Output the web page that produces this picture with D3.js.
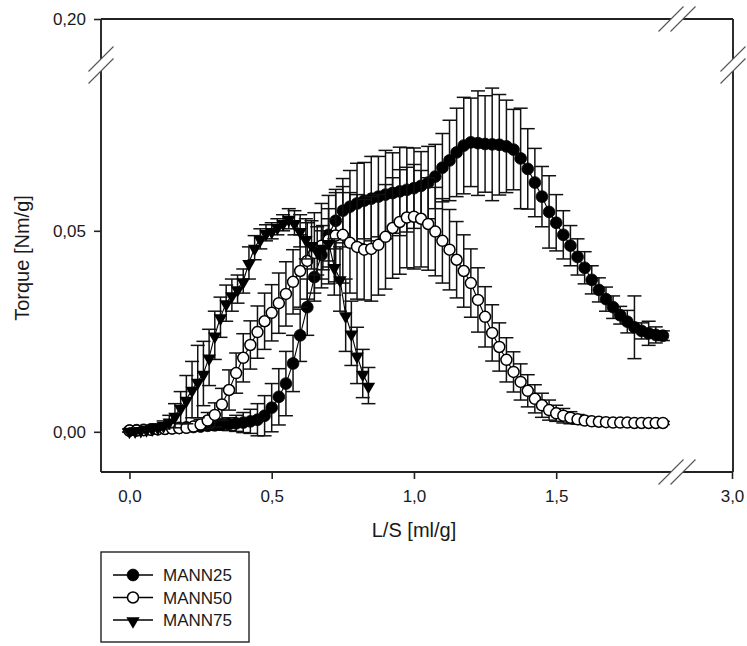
<!DOCTYPE html>
<html>
<head>
<meta charset="utf-8">
<script src="https://cdn.jsdelivr.net/npm/d3@7"></script>
<style>
  body { margin: 0; background: #fff; }
  svg { display: block; }
  text { font-family: "Liberation Sans", Arial, sans-serif; fill: #1a1a1a; }
</style>
</head>
<body>
<svg id="chart" width="747" height="646"></svg>
<script>
// L/S ratio [ml/g] for MANN25 and MANN50
const LS = [0, 0.025, 0.05, 0.075, 0.1, 0.125, 0.15, 0.175, 0.2, 0.225, 0.25, 0.275, 0.3, 0.325, 0.35, 0.375,
  0.4, 0.425, 0.45, 0.475, 0.5, 0.525, 0.55, 0.575, 0.6, 0.625, 0.65, 0.675, 0.7, 0.725, 0.75, 0.775,
  0.8, 0.825, 0.85, 0.875, 0.9, 0.925, 0.95, 0.975, 1.0, 1.025, 1.05, 1.075, 1.1, 1.125, 1.15, 1.175,
  1.2, 1.225, 1.25, 1.275, 1.3, 1.325, 1.35, 1.375, 1.4, 1.425, 1.45, 1.475, 1.5, 1.525, 1.55, 1.575,
  1.6, 1.625, 1.65, 1.675, 1.7, 1.725, 1.75, 1.775, 1.8, 1.825, 1.85, 1.875];

// Torque [Nm/g]
const MANN25 = [0.0003, 0.0004, 0.0005, 0.0006, 0.0007, 0.0008, 0.0009, 0.0010, 0.0011, 0.0012, 0.0013, 0.0015, 0.0016,
  0.0018, 0.0019, 0.0021, 0.0023, 0.0026, 0.0030, 0.0040, 0.0060, 0.0087, 0.0120, 0.0170, 0.0240, 0.0310,
  0.0385, 0.0440, 0.0490, 0.0525, 0.0550, 0.0560, 0.0568, 0.0575, 0.0580, 0.0585, 0.0590, 0.0594, 0.0598,
  0.0602, 0.0606, 0.0612, 0.0620, 0.0635, 0.0657, 0.0675, 0.0695, 0.0712, 0.0720, 0.0718, 0.0716, 0.0715,
  0.0714, 0.0710, 0.0702, 0.0680, 0.0654, 0.0620, 0.0585, 0.0547, 0.0520, 0.0490, 0.0463, 0.0435, 0.0408,
  0.0378, 0.0353, 0.0330, 0.0310, 0.0290, 0.0274, 0.0260, 0.0251, 0.0245, 0.0241, 0.0239];
const MANN25_ERR = [0.0004, 0.0004, 0.0005, 0.0005, 0.0006, 0.0006, 0.0007, 0.0007, 0.0008, 0.0008, 0.0009, 0.0010, 0.0012,
  0.0014, 0.0016, 0.0020, 0.0025, 0.0030, 0.0040, 0.0050, 0.0060, 0.0070, 0.0080, 0.0070, 0.0065, 0.0070,
  0.0060, 0.0060, 0.0065, 0.0070, 0.0080, 0.0090, 0.0100, 0.0095, 0.0105, 0.0100, 0.0110, 0.0100, 0.0110,
  0.0105, 0.0100, 0.0085, 0.0090, 0.0080, 0.0085, 0.0100, 0.0110, 0.0120, 0.0110, 0.0130, 0.0120, 0.0140,
  0.0125, 0.0115, 0.0100, 0.0125, 0.0100, 0.0085, 0.0075, 0.0090, 0.0070, 0.0060, 0.0050, 0.0045, 0.0040,
  0.0035, 0.0030, 0.0030, 0.0028, 0.0022, 0.0028, 0.0078, 0.0020, 0.0030, 0.0020, 0.0012];

const MANN50 = [0.0003, 0.0003, 0.0004, 0.0005, 0.0006, 0.0007, 0.0008, 0.0009, 0.0010, 0.0013, 0.0018, 0.0028, 0.0042,
  0.0068, 0.0104, 0.0146, 0.0184, 0.0216, 0.0248, 0.0275, 0.0296, 0.0320, 0.0343, 0.0373, 0.0400, 0.0425,
  0.0445, 0.0463, 0.0478, 0.0488, 0.0490, 0.0470, 0.0460, 0.0453, 0.0455, 0.0465, 0.0485, 0.0507, 0.0522,
  0.0533, 0.0535, 0.0530, 0.0517, 0.0498, 0.0475, 0.0453, 0.0428, 0.0400, 0.0370, 0.0328, 0.0286, 0.0246,
  0.0211, 0.0179, 0.0149, 0.0124, 0.0102, 0.0082, 0.0066, 0.0054, 0.0046, 0.0040, 0.0035, 0.0031, 0.0028,
  0.0026, 0.0025, 0.0024, 0.0023, 0.0023, 0.0023, 0.0022, 0.0022, 0.0022, 0.0022, 0.0022];
const MANN50_ERR = [0.0003, 0.0003, 0.0003, 0.0004, 0.0004, 0.0004, 0.0005, 0.0005, 0.0006, 0.0008, 0.0012, 0.0020, 0.0030,
  0.0040, 0.0050, 0.0050, 0.0060, 0.0060, 0.0065, 0.0070, 0.0070, 0.0075, 0.0080, 0.0080, 0.0090, 0.0095,
  0.0100, 0.0105, 0.0110, 0.0115, 0.0120, 0.0125, 0.0130, 0.0125, 0.0130, 0.0125, 0.0130, 0.0125, 0.0130,
  0.0125, 0.0130, 0.0120, 0.0115, 0.0110, 0.0105, 0.0100, 0.0095, 0.0090, 0.0085, 0.0080, 0.0075, 0.0070,
  0.0060, 0.0055, 0.0050, 0.0045, 0.0040, 0.0035, 0.0030, 0.0025, 0.0020, 0.0018, 0.0015, 0.0012, 0.0010,
  0.0009, 0.0008, 0.0007, 0.0006, 0.0006, 0.0005, 0.0005, 0.0005, 0.0004, 0.0004, 0.0004];

// MANN75 was sampled on its own L/S grid
const LS75 = [0, 0.02, 0.04, 0.06, 0.08, 0.1, 0.12, 0.14, 0.16, 0.18, 0.2, 0.22, 0.24, 0.26, 0.28, 0.3, 0.32, 0.34,
  0.36, 0.38, 0.4, 0.42, 0.44, 0.46, 0.48, 0.5, 0.52, 0.54, 0.56, 0.58, 0.6, 0.62, 0.64, 0.66, 0.68, 0.7,
  0.72, 0.74, 0.76, 0.78, 0.8, 0.82, 0.84];
const MANN75 = [0.0003, 0.0004, 0.0005, 0.0007, 0.0009, 0.0012, 0.0017, 0.0026, 0.0040, 0.0060, 0.0080, 0.0105, 0.0125,
  0.0145, 0.0185, 0.0240, 0.0285, 0.0320, 0.0340, 0.0355, 0.0375, 0.0420, 0.0458, 0.0480, 0.0495, 0.0500,
  0.0510, 0.0520, 0.0530, 0.0520, 0.0500, 0.0480, 0.0465, 0.0450, 0.0458, 0.0470, 0.0410, 0.0380, 0.0290,
  0.0245, 0.0190, 0.0145, 0.0115];
const MANN75_ERR = [0.0004, 0.0004, 0.0005, 0.0005, 0.0006, 0.0008, 0.0010, 0.0015, 0.0030, 0.0040,
  0.0060, 0.0070, 0.0090, 0.0080, 0.0070, 0.0060, 0.0050, 0.0045, 0.0040, 0.0035,
  0.0030, 0.0040, 0.0030, 0.0025, 0.0020, 0.0020, 0.0020, 0.0020, 0.0025, 0.0030,
  0.0040, 0.0050, 0.0060, 0.0060, 0.0055, 0.0060, 0.0070, 0.0080, 0.0090, 0.0080,
  0.0070, 0.0060, 0.0045];

const SERIES_NAMES = ["MANN25", "MANN50", "MANN75"];
const X_TICKS_LOW = [0, 0.5, 1.0, 1.5];
const X_TICKS_HIGH = [3.0];
const Y_TICKS_LOW = [0, 0.05];
const Y_TICKS_HIGH = [0.20];
const X_TITLE = "L/S [ml/g]";
const Y_TITLE = "Torque [Nm/g]";

// ---- layout ----
const svg = d3.select("#chart");
const pLeft = 101, pRight = 733, pTop = 19, pBottom = 472;
const xBreak = [671, 683];   // gap in the x axis
const yBreak = [59, 71];     // gap in the y axis

const xLow = d3.scaleLinear().domain([-0.1, 1.9]).range([pLeft, 670]);
const xHigh = d3.scaleLinear().domain([2.9, 3.0]).range([xBreak[1], pRight - 1]);
const yLow = d3.scaleLinear().domain([-0.01, 0.09]).range([pBottom, 70]);
const yHigh = d3.scaleLinear().domain([0.19, 0.20]).range([yBreak[0], pTop]);

const comma = f => v => f(v).replace(".", ",");
const FRAME = "#222";

// ---- axes ticks and labels ----
function styleAxis(g) {
  g.select(".domain").remove();
  g.selectAll(".tick line").attr("stroke", FRAME).attr("stroke-width", 1.6);
  g.selectAll(".tick text").style("font-size", "17px").attr("fill", "#1a1a1a");
}
svg.append("g").attr("transform", `translate(${pLeft},0)`)
  .call(d3.axisLeft(yLow).tickValues(Y_TICKS_LOW).tickFormat(comma(d3.format(".2f"))).tickSizeOuter(0).tickSize(7).tickPadding(8))
  .call(styleAxis);
svg.append("g").attr("transform", `translate(${pLeft},0)`)
  .call(d3.axisLeft(yHigh).tickValues(Y_TICKS_HIGH).tickFormat(comma(d3.format(".2f"))).tickSizeOuter(0).tickSize(7).tickPadding(8))
  .call(styleAxis);
svg.append("g").attr("transform", `translate(0,${pBottom})`)
  .call(d3.axisBottom(xLow).tickValues(X_TICKS_LOW).tickFormat(comma(d3.format(".1f"))).tickSizeOuter(0).tickSize(7).tickPadding(11))
  .call(styleAxis);
svg.append("g").attr("transform", `translate(0,${pBottom})`)
  .call(d3.axisBottom(xHigh).tickValues(X_TICKS_HIGH).tickFormat(comma(d3.format(".1f"))).tickSizeOuter(0).tickSize(7).tickPadding(11))
  .call(styleAxis);

// ---- frame with breaks ----
const frame = svg.append("g").attr("stroke", FRAME).attr("stroke-width", 1.9).attr("fill", "none");
const seg = (x1, y1, x2, y2) => frame.append("line").attr("x1", x1).attr("y1", y1).attr("x2", x2).attr("y2", y2);
seg(pLeft, pTop, xBreak[0], pTop); seg(xBreak[1], pTop, pRight, pTop);
seg(pLeft, pBottom, xBreak[0], pBottom); seg(xBreak[1], pBottom, pRight, pBottom);
seg(pLeft, pTop, pLeft, yBreak[0]); seg(pLeft, yBreak[1], pLeft, pBottom);
seg(pRight, pTop, pRight, yBreak[0]); seg(pRight, yBreak[1], pRight, pBottom);

const breaks = svg.append("g").attr("stroke", "#555").attr("stroke-width", 1.1);
function slash(cx, cy) {
  breaks.append("line").attr("x1", cx - 12.5).attr("y1", cy + 12.5).attr("x2", cx + 12.5).attr("y2", cy - 12.5);
}
[[xBreak[0], pTop], [xBreak[1], pTop], [xBreak[0], pBottom], [xBreak[1], pBottom],
 [pLeft, yBreak[0]], [pLeft, yBreak[1]], [pRight, yBreak[0]], [pRight, yBreak[1]]].forEach(p => slash(p[0], p[1]));

// ---- axis titles ----
svg.append("text").attr("x", (pLeft + pRight) / 2 - 3).attr("y", 537)
  .attr("text-anchor", "middle").style("font-size", "20px").text(X_TITLE);
svg.append("text").attr("transform", `translate(29,258) rotate(-90)`)
  .attr("text-anchor", "middle").style("font-size", "20px").text(Y_TITLE);

// ---- data ----
const series = [
  { name: SERIES_NAMES[0], x: LS, y: MANN25, e: MANN25_ERR, marker: "filled" },
  { name: SERIES_NAMES[1], x: LS, y: MANN50, e: MANN50_ERR, marker: "open" },
  { name: SERIES_NAMES[2], x: LS75, y: MANN75, e: MANN75_ERR, marker: "triangle" }
];

const triPath = d3.symbol(d3.symbolTriangle, 78)();
function drawMarker(g, kind) {
  if (kind === "filled") {
    g.append("circle").attr("r", 5.9).attr("fill", "#000").attr("stroke", "#000").attr("stroke-width", 0.8);
  } else if (kind === "open") {
    g.append("circle").attr("r", 5.5).attr("fill", "#fff").attr("stroke", "#000").attr("stroke-width", 1.5);
  } else {
    g.append("path").attr("d", triPath).attr("transform", "translate(0,1) rotate(180)").attr("fill", "#000");
  }
}

const plot = svg.append("g");
const CAP = 7;
series.forEach(s => {
  const pts = s.x.map((x, i) => ({ x, y: s.y[i], e: s.e[i] }));
  const g = plot.append("g");
  // error bars
  const eb = g.append("g").attr("stroke", "#111").attr("stroke-width", 1.5);
  pts.forEach(d => {
    const px = xLow(d.x), y1 = yLow(d.y + d.e), y2 = yLow(d.y - d.e);
    eb.append("line").attr("x1", px).attr("x2", px).attr("y1", y1).attr("y2", y2);
    eb.append("line").attr("x1", px - CAP).attr("x2", px + CAP).attr("y1", y1).attr("y2", y1);
    eb.append("line").attr("x1", px - CAP).attr("x2", px + CAP).attr("y1", y2).attr("y2", y2);
  });
  // connecting line
  g.append("path").datum(pts)
    .attr("d", d3.line().x(d => xLow(d.x)).y(d => yLow(d.y)))
    .attr("fill", "none").attr("stroke", "#000").attr("stroke-width", 1.1);
  // markers
  pts.forEach(d => {
    drawMarker(g.append("g").attr("transform", `translate(${xLow(d.x)},${yLow(d.y)})`), s.marker);
  });
});

// ---- legend ----
const lg = svg.append("g").attr("transform", "translate(101,552)");
lg.append("rect").attr("width", 148).attr("height", 90).attr("fill", "#fff")
  .attr("stroke", FRAME).attr("stroke-width", 1.4);
series.forEach((s, i) => {
  const cy = 23 + i * 22.5;
  lg.append("line").attr("x1", 12).attr("x2", 52).attr("y1", cy).attr("y2", cy)
    .attr("stroke", "#000").attr("stroke-width", 1.3);
  drawMarker(lg.append("g").attr("transform", `translate(32,${cy})`), s.marker);
  lg.append("text").attr("x", 62).attr("y", cy).attr("dy", "0.36em")
    .style("font-size", "17px").text(s.name);
});
</script>
</body>
</html>
